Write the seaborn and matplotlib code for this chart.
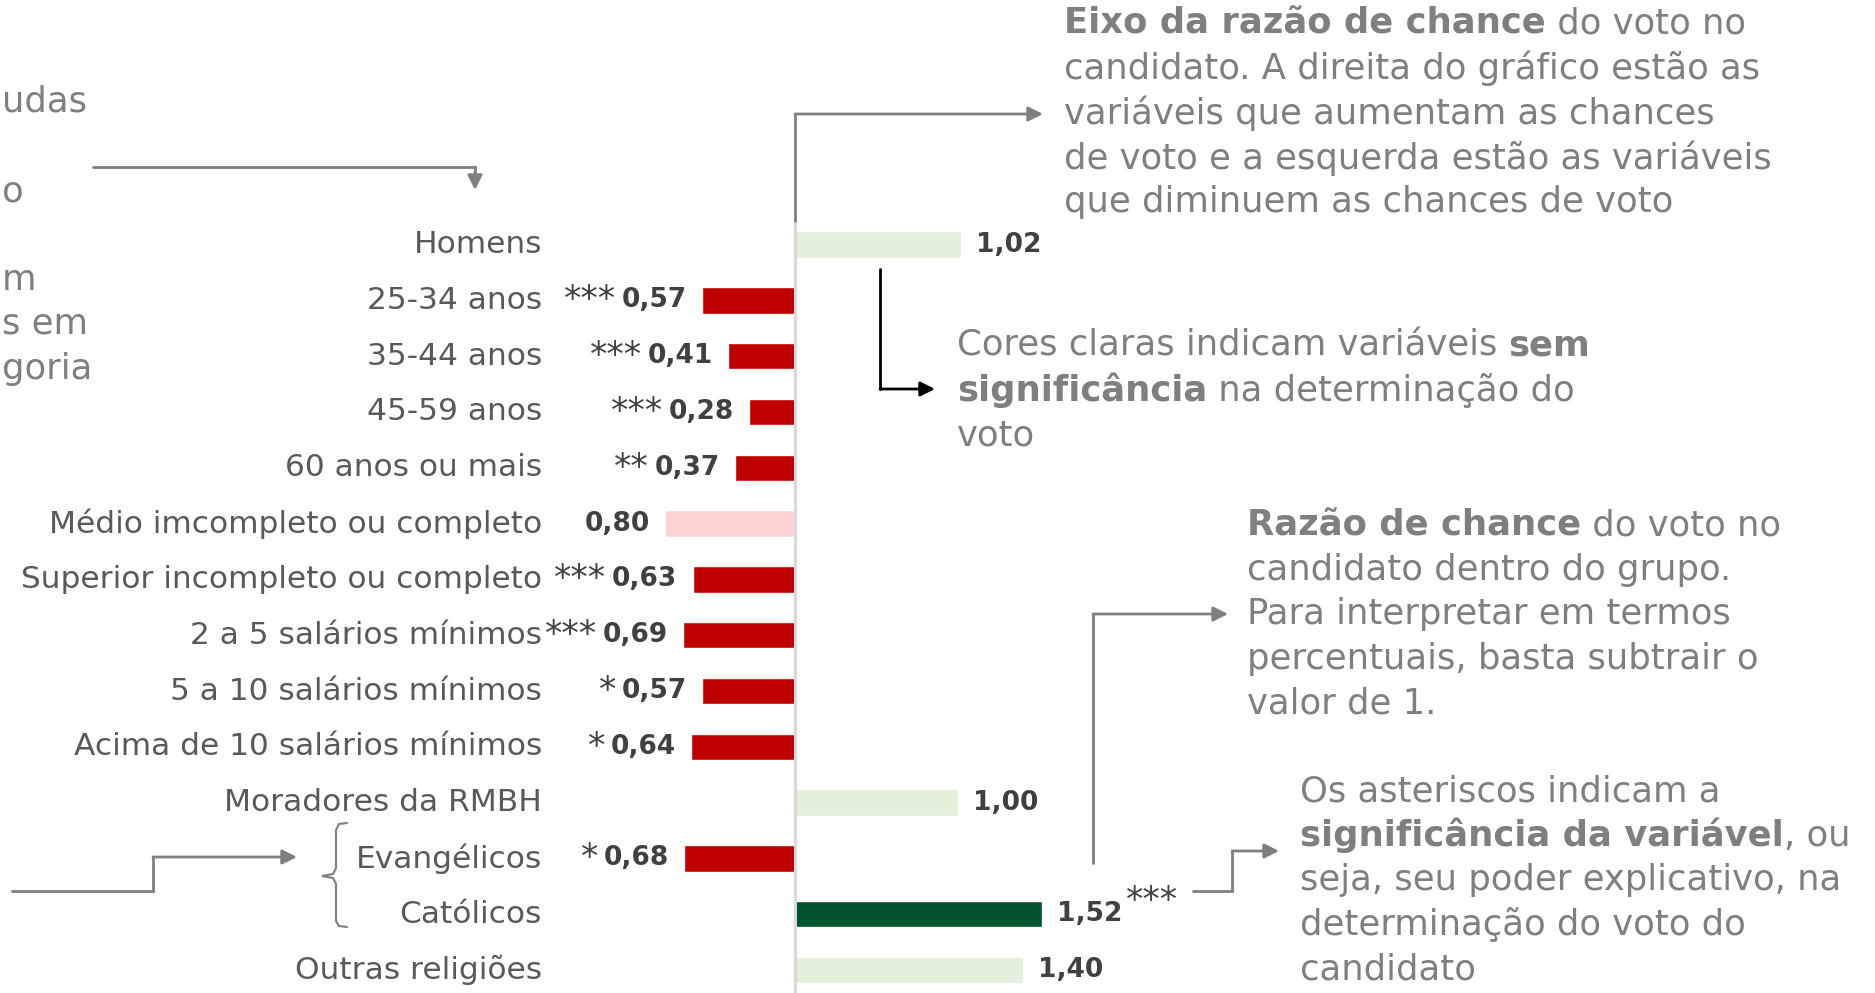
import numpy as np
import pandas as pd
import matplotlib
matplotlib.use("Agg")
import matplotlib.pyplot as plt
from matplotlib.transforms import blended_transform_factory
import seaborn as sns

# dados do grafico (razao de chance por grupo)
categorias = ["Homens", "25-34 anos", "35-44 anos", "45-59 anos",
              "60 anos ou mais", "Médio imcompleto ou completo",
              "Superior incompleto ou completo", "2 a 5 salários mínimos",
              "5 a 10 salários mínimos", "Acima de 10 salários mínimos",
              "Moradores da RMBH", "Evangélicos", "Católicos",
              "Outras religiões"]
razao = [1.02, 0.57, 0.41, 0.28, 0.37, 0.80, 0.63, 0.69, 0.57, 0.64,
         1.00, 0.68, 1.52, 1.40]
signif = ["", "***", "***", "***", "**", "", "***", "***", "*", "*",
          "", "*", "***", ""]

W, H = 1875, 993
CINZA = "#7F7F7F"
ROTULO = "#595959"
VALOR = "#404040"

sns.set_theme(style="white")
plt.rcParams["font.family"] = ["DejaVu Sans"]

df = pd.DataFrame({"cat": categorias, "razao": razao, "sig": signif})
# a direita os que aumentam a chance, a esquerda os que diminuem
df["x"] = np.where(df["razao"] >= 1, df["razao"], -df["razao"])


def cor(r, s):
    if r >= 1:
        return "#00532B" if s else "#E2EFDA"
    return "#C00000" if s else "#FFD3D3"


paleta = {c: cor(r, s) for c, r, s in zip(df["cat"], df["razao"], df["sig"])}

fig = plt.figure(figsize=(W / 100, H / 100), dpi=100)
ax = fig.add_axes([0, 0, 1, 1])
sns.barplot(data=df, x="x", y="cat", hue="cat", palette=paleta, orient="h",
            width=0.47, saturation=1, legend=False, ax=ax)

# escala: zero em x=795px, 162.6px por unidade; linhas a cada 55.8px
ax.set_xlim(-795 / 162.6, (W - 795) / 162.6)
ax.set_ylim(13 + (H - 970) / 55.8, -244.6 / 55.8)
ax.axis("off")
ax.vlines(0, -0.42, 13.6, color="#D9D9D9", lw=2.2, zorder=1)

tr = blended_transform_factory(fig.transFigure, ax.transData)
for i, row in df.iterrows():
    ax.text(542 / W, i, row["cat"], transform=tr, ha="right", va="center",
            fontsize=22.5, color=ROTULO)
    txt = f"{row['razao']:.2f}".replace(".", ",")
    if row["x"] < 0:
        t = ax.annotate(txt, (row["x"], i), xytext=(-11, 0),
                        textcoords="offset points", ha="right", va="center",
                        fontsize=19, fontweight="bold", color=VALOR)
        if row["sig"]:
            ax.annotate(row["sig"], xy=(0, 0.5), xycoords=t, xytext=(-4, 0),
                        textcoords="offset points", ha="right", va="center",
                        fontsize=25, color=VALOR)
    else:
        t = ax.annotate(txt, (row["x"], i), xytext=(11, 0),
                        textcoords="offset points", ha="left", va="center",
                        fontsize=19, fontweight="bold", color=VALOR)
        if row["sig"]:
            ax.annotate(row["sig"], xy=(1, 1), xycoords=t, xytext=(2, 0),
                        textcoords="offset points", ha="left", va="center",
                        fontsize=25, color=VALOR)


def fx(px):
    return px / W


def fy(py):
    return 1 - py / H


def linha(pts, color=CINZA, lw=2):
    xs = [fx(p[0]) for p in pts]
    ys = [fy(p[1]) for p in pts]
    ax.plot(xs, ys, transform=fig.transFigure, color=color, lw=lw,
            clip_on=False, solid_joinstyle="miter")


def seta(p0, p1, color=CINZA):
    ax.annotate("", xy=(fx(p1[0]), fy(p1[1])), xytext=(fx(p0[0]), fy(p0[1])),
                xycoords="figure fraction", textcoords="figure fraction",
                arrowprops=dict(arrowstyle="-|>", color=color, lw=2,
                                mutation_scale=22, shrinkA=0, shrinkB=0))


def bloco(x, y0, linhas, passo=44.6, size=25.5):
    for k, segs in enumerate(linhas):
        if isinstance(segs, str):
            segs = [(segs, False)]
        prev = None
        for s, negrito in segs:
            peso = "bold" if negrito else "normal"
            if prev is None:
                prev = fig.text(fx(x), fy(y0 + k * passo), s, ha="left",
                                va="center", fontsize=size, color=CINZA,
                                fontweight=peso)
            else:
                prev = ax.annotate(s, xy=(1, 0.5), xycoords=prev, ha="left",
                                   va="center", fontsize=size, color=CINZA,
                                   fontweight=peso)


# bloco superior
linha([(795, 221), (795, 114)])
seta((795, 114), (1043, 114))
bloco(1064, 24, [[("Eixo da razão de chance", True), (" do voto no", False)],
                 "candidato. A direita do gráfico estão as",
                 "variáveis que aumentam as chances",
                 "de voto e a esquerda estão as variáveis",
                 "que diminuem as chances de voto"])

# cores claras
linha([(880, 269), (880, 389)], color="black")
seta((880, 389), (935, 389), color="black")
bloco(957, 346, [[("Cores claras indicam variáveis ", False), ("sem", True)],
                 [("significância", True), (" na determinação do", False)],
                 "voto"])

# razao de chance
linha([(1093, 863), (1093, 614)])
seta((1093, 614), (1228, 614))
bloco(1247, 525, [[("Razão de chance", True), (" do voto no", False)],
                  "candidato dentro do grupo.",
                  "Para interpretar em termos",
                  "percentuais, basta subtrair o",
                  "valor de 1."])

# asteriscos
linha([(1193, 891), (1232, 891), (1232, 851)])
seta((1232, 851), (1279, 851))
bloco(1300, 791, ["Os asteriscos indicam a",
                  [("significância da variável", True), (", ou", False)],
                  "seja, seu poder explicativo, na",
                  "determinação do voto do",
                  "candidato"])

# texto que aparece cortado na borda esquerda
for s, yy in [("udas", 101), ("o", 191), ("m", 280), ("s em", 324),
              ("goria", 369)]:
    fig.text(fx(2), fy(yy), s, ha="left", va="center", fontsize=25.5,
             color=CINZA)
linha([(93, 167), (475, 167), (475, 175)])
seta((475, 172), (475, 190))

linha([(12, 891), (153, 891), (153, 857)])
seta((153, 857), (297, 857))

# chave dos grupos religiosos
chave = [(347, 823), (339, 824), (336, 830), (336, 868), (333, 874),
         (322, 876), (333, 878), (336, 884), (336, 921), (339, 926),
         (347, 927)]
linha(chave, lw=1.5)

fig.savefig("out.png", dpi=100)
